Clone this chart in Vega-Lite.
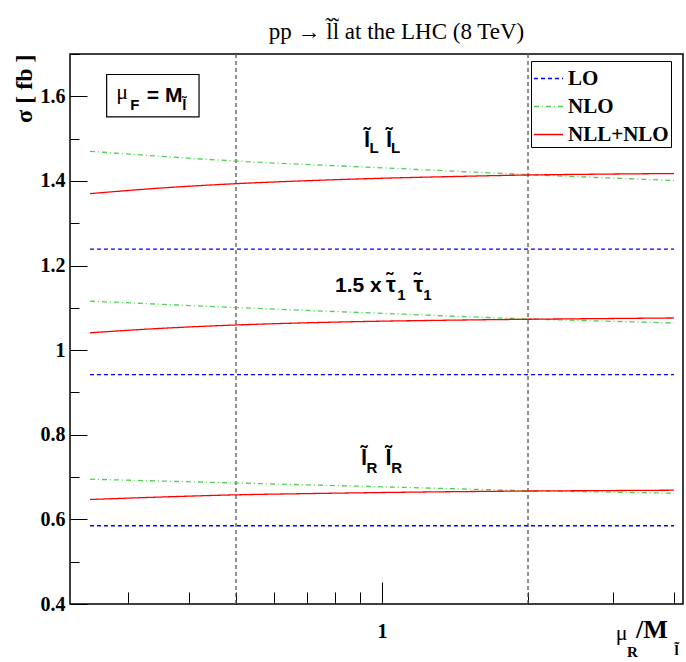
{
  "$schema": "https://vega.github.io/schema/vega-lite/v6.json",
  "width": 613,
  "height": 550,
  "autosize": {"type": "none"},
  "padding": {"left": 70, "top": 54, "right": 3, "bottom": 58},
  "title": {"text": "pp → l̃l̃ at the LHC (8 TeV)", "font": "Liberation Serif", "fontWeight": "normal", "fontSize": 23, "color": "black", "baseline": "alphabetic", "offset": -9, "anchor": "middle", "frame": "group", "dx": 20},
  "config": {
    "view": {"stroke": "black", "strokeWidth": 1.5},
    "legend": {"orient": "none", "legendX": 461, "legendY": 7, "padding": 2, "strokeColor": "black", "fillColor": "white", "rowPadding": 2, "symbolType": "stroke", "symbolSize": 841, "symbolStrokeWidth": 1.3, "labelFont": "Liberation Serif", "labelFontWeight": "bold", "labelFontSize": 21, "labelColor": "black", "labelOffset": 4, "labelLimit": 300, "title": null}
  },
  "datasets": {
    "curves": [
      {"s": "LO", "g": "LL", "x": 0.25, "y": 1.239},
      {"s": "LO", "g": "LL", "x": 4, "y": 1.239},
      {"s": "LO", "g": "TT", "x": 0.25, "y": 0.942},
      {"s": "LO", "g": "TT", "x": 4, "y": 0.942},
      {"s": "LO", "g": "RR", "x": 0.25, "y": 0.585},
      {"s": "LO", "g": "RR", "x": 4, "y": 0.585},
      {"s": "NLO", "g": "LL", "x": 0.25, "y": 1.470},
      {"s": "NLO", "g": "LL", "x": 0.5, "y": 1.447},
      {"s": "NLO", "g": "LL", "x": 1, "y": 1.431},
      {"s": "NLO", "g": "LL", "x": 2, "y": 1.415},
      {"s": "NLO", "g": "LL", "x": 4, "y": 1.401},
      {"s": "NLO", "g": "TT", "x": 0.25, "y": 1.116},
      {"s": "NLO", "g": "TT", "x": 0.5, "y": 1.1007},
      {"s": "NLO", "g": "TT", "x": 1, "y": 1.087},
      {"s": "NLO", "g": "TT", "x": 2, "y": 1.0738},
      {"s": "NLO", "g": "TT", "x": 4, "y": 1.0643},
      {"s": "NLO", "g": "RR", "x": 0.25, "y": 0.695},
      {"s": "NLO", "g": "RR", "x": 0.5, "y": 0.686},
      {"s": "NLO", "g": "RR", "x": 1, "y": 0.677},
      {"s": "NLO", "g": "RR", "x": 2, "y": 0.668},
      {"s": "NLO", "g": "RR", "x": 4, "y": 0.662},
      {"s": "NLL+NLO", "g": "LL", "x": 0.25, "y": 1.370},
      {"s": "NLL+NLO", "g": "LL", "x": 0.3536, "y": 1.3835},
      {"s": "NLL+NLO", "g": "LL", "x": 0.5, "y": 1.3935},
      {"s": "NLL+NLO", "g": "LL", "x": 0.7071, "y": 1.4007},
      {"s": "NLL+NLO", "g": "LL", "x": 1, "y": 1.4063},
      {"s": "NLL+NLO", "g": "LL", "x": 1.4142, "y": 1.4105},
      {"s": "NLL+NLO", "g": "LL", "x": 2, "y": 1.414},
      {"s": "NLL+NLO", "g": "LL", "x": 2.8284, "y": 1.416},
      {"s": "NLL+NLO", "g": "LL", "x": 4, "y": 1.4175},
      {"s": "NLL+NLO", "g": "TT", "x": 0.25, "y": 1.041},
      {"s": "NLL+NLO", "g": "TT", "x": 0.3536, "y": 1.0518},
      {"s": "NLL+NLO", "g": "TT", "x": 0.5, "y": 1.0595},
      {"s": "NLL+NLO", "g": "TT", "x": 0.7071, "y": 1.0648},
      {"s": "NLL+NLO", "g": "TT", "x": 1, "y": 1.0685},
      {"s": "NLL+NLO", "g": "TT", "x": 1.4142, "y": 1.071},
      {"s": "NLL+NLO", "g": "TT", "x": 2, "y": 1.073},
      {"s": "NLL+NLO", "g": "TT", "x": 2.8284, "y": 1.0746},
      {"s": "NLL+NLO", "g": "TT", "x": 4, "y": 1.0761},
      {"s": "NLL+NLO", "g": "RR", "x": 0.25, "y": 0.647},
      {"s": "NLL+NLO", "g": "RR", "x": 0.3536, "y": 0.653},
      {"s": "NLL+NLO", "g": "RR", "x": 0.5, "y": 0.658},
      {"s": "NLL+NLO", "g": "RR", "x": 0.7071, "y": 0.661},
      {"s": "NLL+NLO", "g": "RR", "x": 1, "y": 0.6635},
      {"s": "NLL+NLO", "g": "RR", "x": 1.4142, "y": 0.6655},
      {"s": "NLL+NLO", "g": "RR", "x": 2, "y": 0.667},
      {"s": "NLL+NLO", "g": "RR", "x": 2.8284, "y": 0.668},
      {"s": "NLL+NLO", "g": "RR", "x": 4, "y": 0.669}
    ]
  },
  "layer": [
    {
      "data": {"values": [{"x": 0.5}, {"x": 2}]},
      "mark": {"type": "rule", "color": "#555555", "strokeWidth": 1.3, "strokeDash": [4, 3]},
      "encoding": {"x": {"field": "x", "type": "quantitative", "scale": {"type": "log", "domain": [0.2274, 4.174], "nice": false}}}
    },
    {
      "data": {"name": "curves"},
      "mark": {"type": "line", "strokeWidth": 1.3, "interpolate": "monotone"},
      "encoding": {
        "x": {"field": "x", "type": "quantitative", "scale": {"type": "log", "domain": [0.2274, 4.174], "nice": false},
          "axis": {"title": null, "domain": false, "grid": false, "values": [0.3, 0.4, 0.5, 0.6, 0.7, 0.8, 0.9, 1, 2, 3, 4],
            "labelExpr": "datum.value == 1 ? '1' : ''", "tickColor": "black", "tickWidth": 1,
            "tickSize": {"condition": {"test": "datum.value == 1", "value": -22}, "value": -12},
            "labelFont": "Liberation Serif", "labelFontWeight": "bold", "labelFontSize": 20, "labelColor": "black", "labelPadding": 39, "labelFlush": false}},
        "y": {"field": "y", "type": "quantitative", "scale": {"domain": [0.4, 1.7], "nice": false, "zero": false},
          "axis": {"title": "σ [ fb ]", "titleFont": "Liberation Serif", "titleFontWeight": "bold", "titleFontSize": 24, "titleColor": "black",
            "titleAngle": -90, "titleX": -46, "titleY": 0, "titleAlign": "right", "titleBaseline": "middle",
            "domain": false, "grid": false,
            "values": [0.4, 0.45, 0.5, 0.55, 0.6, 0.65, 0.7, 0.75, 0.8, 0.85, 0.9, 0.95, 1, 1.05, 1.1, 1.15, 1.2, 1.25, 1.3, 1.35, 1.4, 1.45, 1.5, 1.55, 1.6, 1.65, 1.7],
            "format": ".2~f",
            "labelExpr": "indexof([0.4, 0.6, 0.8, 1, 1.2, 1.4, 1.6], datum.value) >= 0 ? datum.label : ''",
            "tickColor": "black", "tickWidth": 1,
            "tickSize": {"condition": {"test": "indexof([0.4, 0.6, 0.8, 1, 1.2, 1.4, 1.6], datum.value) >= 0", "value": -17}, "value": -9},
            "labelFont": "Liberation Serif", "labelFontWeight": "bold", "labelFontSize": 20, "labelColor": "black", "labelPadding": 22, "labelFlush": false}},
        "detail": {"field": "g"},
        "color": {"field": "s", "type": "nominal", "scale": {"domain": ["LO", "NLO", "NLL+NLO"], "range": ["#0000ff", "#4fcf4f", "#ff0000"]}, "legend": {"title": null}},
        "strokeDash": {"field": "s", "type": "nominal", "scale": {"domain": ["LO", "NLO", "NLL+NLO"], "range": [[4, 3], [5, 3, 1, 3], [1, 0]]}, "legend": {"title": null}}
      }
    },
    {
      "data": {"values": [{"x1": 0.2706, "x2": 0.4196, "y1": 1.6515, "y2": 1.5513}]},
      "mark": {"type": "rect", "fill": null, "stroke": "black", "strokeWidth": 1.2},
      "encoding": {"x": {"field": "x1", "type": "quantitative"}, "x2": {"field": "x2"}, "y": {"field": "y1", "type": "quantitative"}, "y2": {"field": "y2"}}
    },
    {
      "data": {"values": [
        {"x": 0.9313, "y": 1.4797, "t": "l̃"}, {"x": 1.0338, "y": 1.4797, "t": "l̃"},
        {"x": 0.9181, "y": 0.7279, "t": "l̃"}, {"x": 1.0314, "y": 0.7279, "t": "l̃"},
        {"x": 1.0437, "y": 1.1376, "t": "τ̃"}, {"x": 1.1892, "y": 1.1376, "t": "τ̃"}
      ]},
      "mark": {"type": "text", "font": "Liberation Sans", "fontWeight": "bold", "fontSize": 22, "align": "center", "baseline": "alphabetic", "color": "black"},
      "encoding": {"x": {"field": "x", "type": "quantitative"}, "y": {"field": "y", "type": "quantitative"}, "text": {"field": "t"}}
    },
    {
      "data": {"values": [
        {"x": 0.800, "y": 1.1376, "t": "1.5 x"},
        {"x": 0.3275, "y": 1.586, "t": "= M"}
      ]},
      "mark": {"type": "text", "font": "Liberation Sans", "fontWeight": "bold", "fontSize": 21, "align": "left", "baseline": "alphabetic", "color": "black"},
      "encoding": {"x": {"field": "x", "type": "quantitative"}, "y": {"field": "y", "type": "quantitative"}, "text": {"field": "t"}}
    },
    {
      "data": {"values": [
        {"x": 0.9627, "y": 1.4655, "t": "L"}, {"x": 1.0662, "y": 1.4655, "t": "L"},
        {"x": 0.9536, "y": 0.709, "t": "R"}, {"x": 1.0723, "y": 0.709, "t": "R"},
        {"x": 1.0970, "y": 1.118, "t": "1"}, {"x": 1.2410, "y": 1.118, "t": "1"},
        {"x": 0.3093, "y": 1.5671, "t": "F"}, {"x": 0.3913, "y": 1.5671, "t": "l̃"}
      ]},
      "mark": {"type": "text", "font": "Liberation Sans", "fontWeight": "bold", "fontSize": 15, "align": "center", "baseline": "alphabetic", "color": "black"},
      "encoding": {"x": {"field": "x", "type": "quantitative"}, "y": {"field": "y", "type": "quantitative"}, "text": {"field": "t"}}
    },
    {
      "data": {"values": [
        {"x": 0.2913, "y": 1.593, "t": "μ"},
        {"x": 3.120, "y": 0.3142, "t": "μ"}
      ]},
      "mark": {"type": "text", "font": "Liberation Serif", "fontWeight": "normal", "fontSize": 22, "align": "center", "baseline": "alphabetic", "color": "black"},
      "encoding": {"x": {"field": "x", "type": "quantitative"}, "y": {"field": "y", "type": "quantitative"}, "text": {"field": "t"}}
    },
    {
      "data": {"values": [{"x": 3.340, "y": 0.319, "t": "/M"}]},
      "mark": {"type": "text", "font": "Liberation Serif", "fontWeight": "bold", "fontSize": 26, "align": "left", "baseline": "alphabetic", "color": "black"},
      "encoding": {"x": {"field": "x", "type": "quantitative"}, "y": {"field": "y", "type": "quantitative"}, "text": {"field": "t"}}
    },
    {
      "data": {"values": [{"x": 3.285, "y": 0.274, "t": "R"}, {"x": 4.05, "y": 0.279, "t": "l̃"}]},
      "mark": {"type": "text", "font": "Liberation Serif", "fontWeight": "bold", "fontSize": 15, "align": "center", "baseline": "alphabetic", "color": "black"},
      "encoding": {"x": {"field": "x", "type": "quantitative"}, "y": {"field": "y", "type": "quantitative"}, "text": {"field": "t"}}
    }
  ]
}
